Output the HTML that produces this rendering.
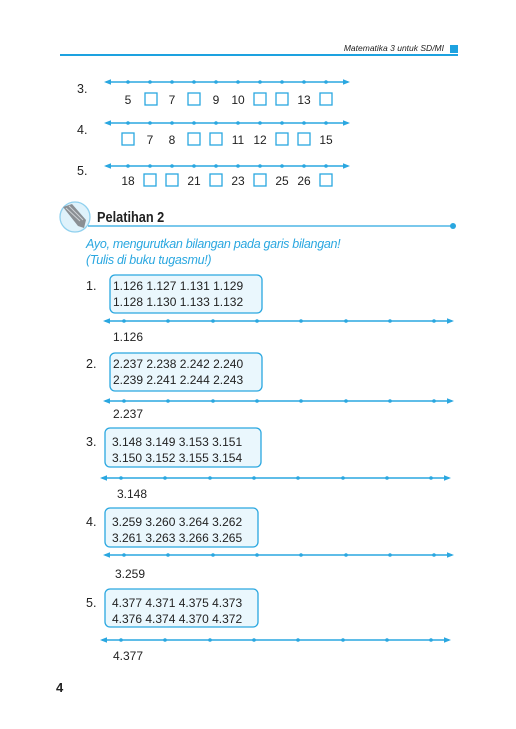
<!DOCTYPE html>
<html><head><meta charset="utf-8"><style>
html,body{margin:0;padding:0;background:#fff;}
svg{display:block;}
text{font-family:"Liberation Sans",sans-serif;}
.d text{fill:#222;}
.n{font-size:12px;}
</style></head><body>
<svg width="516" height="729" viewBox="0 0 516 729">
<!-- header -->
<text x="444" y="51" font-size="8.5" font-style="italic" text-anchor="end" fill="#222">Matematika 3 untuk SD/MI</text>
<rect x="450" y="45" width="8" height="8" fill="#1da2e0"/>
<line x1="60" y1="55" x2="458" y2="55" stroke="#1da2e0" stroke-width="2"/>

<!-- top number lines -->
<g stroke="#2aa7e0" stroke-width="1.6">
<line x1="106" y1="82" x2="348" y2="82"/>
<line x1="106" y1="123" x2="348" y2="123"/>
<line x1="106" y1="166" x2="348" y2="166"/>
</g>
<g fill="#2aa7e0">
<path d="M104 82 l7 -2.8 v5.6z"/><path d="M350 82 l-7 -2.8 v5.6z"/>
<path d="M104 123 l7 -2.8 v5.6z"/><path d="M350 123 l-7 -2.8 v5.6z"/>
<path d="M104 166 l7 -2.8 v5.6z"/><path d="M350 166 l-7 -2.8 v5.6z"/>
<g id="tk"><circle cx="128" cy="82" r="1.8"/><circle cx="150" cy="82" r="1.8"/><circle cx="172" cy="82" r="1.8"/><circle cx="194" cy="82" r="1.8"/><circle cx="216" cy="82" r="1.8"/><circle cx="238" cy="82" r="1.8"/><circle cx="260" cy="82" r="1.8"/><circle cx="282" cy="82" r="1.8"/><circle cx="304" cy="82" r="1.8"/><circle cx="326" cy="82" r="1.8"/></g>
<use href="#tk" y="41"/><use href="#tk" y="84"/>
</g>
<g class="d" font-size="12.5">
<text x="77" y="93">3.</text><text x="77" y="134">4.</text><text x="77" y="175">5.</text>
</g>
<g class="n d" text-anchor="middle">
<text x="128" y="104">5</text><text x="172" y="104">7</text><text x="216" y="104">9</text><text x="238" y="104">10</text><text x="304" y="104">13</text>
<text x="150" y="144">7</text><text x="172" y="144">8</text><text x="238" y="144">11</text><text x="260" y="144">12</text><text x="326" y="144">15</text>
<text x="128" y="185">18</text><text x="194" y="185">21</text><text x="238" y="185">23</text><text x="282" y="185">25</text><text x="304" y="185">26</text>
</g>
<g fill="none" stroke="#2aa7e0" stroke-width="1.3">
<rect x="145" y="93" width="12" height="12"/><rect x="188" y="93" width="12" height="12"/><rect x="254" y="93" width="12" height="12"/><rect x="276" y="93" width="12" height="12"/><rect x="320" y="93" width="12" height="12"/>
<rect x="122" y="133" width="12" height="12"/><rect x="188" y="133" width="12" height="12"/><rect x="210" y="133" width="12" height="12"/><rect x="276" y="133" width="12" height="12"/><rect x="298" y="133" width="12" height="12"/>
<rect x="144" y="174" width="12" height="12"/><rect x="166" y="174" width="12" height="12"/><rect x="210" y="174" width="12" height="12"/><rect x="254" y="174" width="12" height="12"/><rect x="320" y="174" width="12" height="12"/>
</g>

<!-- Pelatihan header -->
<circle cx="75" cy="217" r="15" fill="#dff2fb" stroke="#8fd0ee" stroke-width="1.3"/>
<path d="M63 207 L72 204 L86 220 L84 228 L78 226 Z" fill="#8a8f94"/>
<path d="M66 208 L80 221 M69 206 L83 220" stroke="#cfd3d6" stroke-width="1"/>
<text x="97" y="222" font-size="15" font-weight="bold" fill="#222" transform="translate(97 0) scale(0.85 1) translate(-97 0)">Pelatihan 2</text>
<line x1="88" y1="226" x2="452" y2="226" stroke="#2aa7e0" stroke-width="1.3"/>
<circle cx="453" cy="226" r="3" fill="#2aa7e0"/>
<text x="86" y="248" font-size="12.5" font-style="italic" fill="#2aa7e0" letter-spacing="-0.3">Ayo, mengurutkan bilangan pada garis bilangan!</text>
<text x="86" y="264" font-size="12.5" font-style="italic" fill="#2aa7e0" letter-spacing="-0.3">(Tulis di buku tugasmu!)</text>

<!-- exercises -->
<g class="d" font-size="12.5">
<text x="86" y="290">1.</text><text x="86" y="368">2.</text><text x="86" y="446">3.</text><text x="86" y="526">4.</text><text x="86" y="607">5.</text>
</g>
<g fill="#eaf7fd" stroke="#2aa7e0" stroke-width="1.3">
<rect x="110" y="275" width="152" height="38" rx="5"/>
<rect x="110" y="353" width="152" height="38" rx="5"/>
<rect x="105" y="428" width="156" height="39" rx="5"/>
<rect x="105" y="508" width="153" height="39" rx="5"/>
<rect x="105" y="589" width="153" height="38" rx="5"/>
</g>
<g class="n d" font-size="12.5">
<text x="113" y="290">1.126 1.127 1.131 1.129</text><text x="113" y="306">1.128 1.130 1.133 1.132</text>
<text x="113" y="368">2.237 2.238 2.242 2.240</text><text x="113" y="384">2.239 2.241 2.244 2.243</text>
<text x="112" y="446">3.148 3.149 3.153 3.151</text><text x="112" y="462">3.150 3.152 3.155 3.154</text>
<text x="112" y="526">3.259 3.260 3.264 3.262</text><text x="112" y="542">3.261 3.263 3.266 3.265</text>
<text x="112" y="607">4.377 4.371 4.375 4.373</text><text x="112" y="623">4.376 4.374 4.370 4.372</text>
<text x="113" y="341">1.126</text><text x="113" y="418">2.237</text><text x="117" y="498">3.148</text><text x="115" y="578">3.259</text><text x="113" y="660">4.377</text>
</g>
<g stroke="#2aa7e0" stroke-width="1.6">
<line x1="105" y1="321" x2="452" y2="321"/>
<line x1="105" y1="401" x2="452" y2="401"/>
<line x1="102" y1="478" x2="449" y2="478"/>
<line x1="105" y1="555" x2="452" y2="555"/>
<line x1="102" y1="640" x2="449" y2="640"/>
</g>
<g fill="#2aa7e0">
<path d="M103 321 l7 -2.8 v5.6z"/><path d="M454 321 l-7 -2.8 v5.6z"/>
<path d="M103 401 l7 -2.8 v5.6z"/><path d="M454 401 l-7 -2.8 v5.6z"/>
<path d="M100 478 l7 -2.8 v5.6z"/><path d="M451 478 l-7 -2.8 v5.6z"/>
<path d="M103 555 l7 -2.8 v5.6z"/><path d="M454 555 l-7 -2.8 v5.6z"/>
<path d="M100 640 l7 -2.8 v5.6z"/><path d="M451 640 l-7 -2.8 v5.6z"/>
<g id="t8"><circle cx="124" cy="321" r="1.8"/><circle cx="168" cy="321" r="1.8"/><circle cx="213" cy="321" r="1.8"/><circle cx="257" cy="321" r="1.8"/><circle cx="301" cy="321" r="1.8"/><circle cx="346" cy="321" r="1.8"/><circle cx="390" cy="321" r="1.8"/><circle cx="434" cy="321" r="1.8"/></g>
<use href="#t8" y="80"/><use href="#t8" x="-3" y="157"/><use href="#t8" y="234"/><use href="#t8" x="-3" y="319"/>
</g>

<text x="56" y="692" font-size="13" font-weight="bold" fill="#222">4</text>
</svg>
</body></html>
